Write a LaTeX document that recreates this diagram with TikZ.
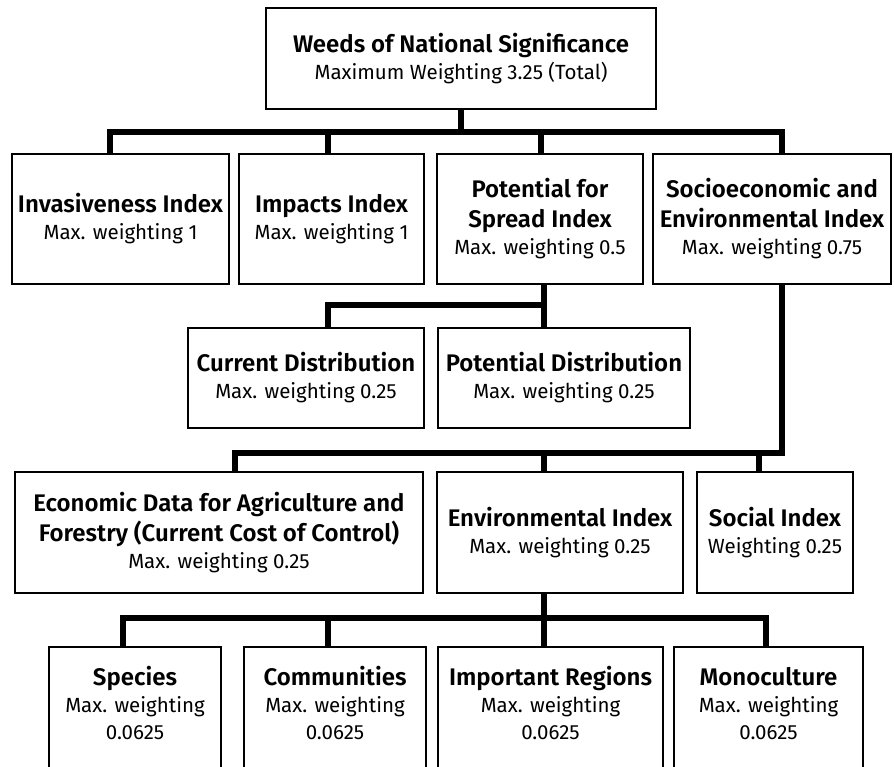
\documentclass[tikz,border=0pt]{standalone}
\usepackage{fontspec}
\setmainfont{Fira Sans}[BoldFont={Fira Sans SemiBold}]
\newcommand\headtxt[1]{{\fontsize{24}{27}\selectfont\bfseries #1}}
\begin{document}
\begin{tikzpicture}[x=1pt,y=-1pt,
  box/.style={draw,line width=2.8pt,inner sep=0pt,align=center,
    font=\fontsize{20.5}{27}\selectfont},
  txt/.style={inner sep=0pt,align=center,anchor=north,
    font=\fontsize{20.5}{27}\selectfont},
  conn/.style={line width=6.5pt}]
\useasboundingbox (0,0) rectangle (894,766);
\clip (0,0) rectangle (894,766);

% boxes
\node[box,minimum width=390pt,minimum height=101pt] (top) at (461,58.5)
  {\headtxt{Weeds of National Significance}\\Maximum Weighting 3.25 (Total)};

\node[box,minimum width=217pt,minimum height=130pt] (inv) at (120.5,219)
  {\headtxt{Invasiveness Index}\\Max. weighting 1};
\node[box,minimum width=185pt,minimum height=130pt] (imp) at (331.5,219)
  {\headtxt{Impacts Index}\\Max. weighting 1};
\node[box,minimum width=206pt,minimum height=130pt] (pfs) at (540,219)
  {\headtxt{Potential for}\\[3pt]\headtxt{Spread Index}\\Max. weighting 0.5};
\node[box,minimum width=238pt,minimum height=130pt] (soc) at (772,219)
  {\headtxt{Socioeconomic and}\\[3pt]\headtxt{Environmental Index}\\Max. weighting 0.75};

\node[box,minimum width=236pt,minimum height=100pt] (cur) at (306,378)
  {\headtxt{Current Distribution}\\Max. weighting 0.25};
\node[box,minimum width=252pt,minimum height=100pt] (pot) at (564,378)
  {\headtxt{Potential Distribution}\\Max. weighting 0.25};

\node[box,minimum width=408pt,minimum height=121pt] (eco) at (219,532.5)
  {\headtxt{Economic Data for Agriculture and}\\[3pt]\headtxt{Forestry (Current Cost of Control)}\\Max. weighting 0.25};
\node[box,minimum width=246pt,minimum height=121pt] (env) at (560,532.5)
  {\headtxt{Environmental Index}\\Max. weighting 0.25};
\node[box,minimum width=156pt,minimum height=121pt] (soci) at (775,532.5)
  {\headtxt{Social Index}\\Weighting 0.25};

% bottom row: boxes run past the lower edge, so their text is set from the top
\node[box,minimum width=172pt,minimum height=123pt] (spe) at (135,708.5) {};
\node[box,minimum width=182pt,minimum height=123pt] (com) at (335,708.5) {};
\node[box,minimum width=225pt,minimum height=123pt] (imr) at (550.5,708.5) {};
\node[box,minimum width=189pt,minimum height=123pt] (mon) at (768.5,708.5) {};
\node[txt] (spe-t) at ([yshift=-18pt]spe.north)
  {\rule{0pt}{22pt}\headtxt{Species}\\Max. weighting\\0.0625};
\node[txt] (com-t) at ([yshift=-18pt]com.north)
  {\rule{0pt}{22pt}\headtxt{Communities}\\Max. weighting\\0.0625};
\node[txt] (imr-t) at ([yshift=-18pt]imr.north)
  {\rule{0pt}{22pt}\headtxt{Important Regions}\\Max. weighting\\0.0625};
\node[txt] (mon-t) at ([yshift=-18pt]mon.north)
  {\rule{0pt}{22pt}\headtxt{Monoculture}\\Max. weighting\\0.0625};

% levels of the horizontal bars
\coordinate (b1) at (0,132);
\coordinate (b2) at (0,305);
\coordinate (b3) at (0,453);
\coordinate (b4) at (0,618);

% connectors
\foreach \child/\dx in {inv/-10.5,imp/-3.5,pfs/1,soc/10}
  \draw[conn] (top.south) -- (top.south |- b1) -| ([xshift=\dx pt]\child.north);

\draw[conn] ([xshift=4pt]pfs.south) -- ([xshift=-20pt]pot.north);
\draw[conn] ([xshift=4pt]pfs.south) -- ([xshift=4pt]pfs.south |- b2) -| ([xshift=22pt]cur.north);

\foreach \child/\dx in {eco/16,env/-16,soci/-16}
  \draw[conn] ([xshift=10pt]soc.south) -- ([xshift=10pt]soc.south |- b3) -| ([xshift=\dx pt]\child.north);

\foreach \child/\dx in {spe/-12,com/-7,imr/-6.5,mon/-2.5}
  \draw[conn] ([xshift=-16pt]env.south) -- ([xshift=-16pt]env.south |- b4) -| ([xshift=\dx pt]\child.north);
\end{tikzpicture}
\end{document}
